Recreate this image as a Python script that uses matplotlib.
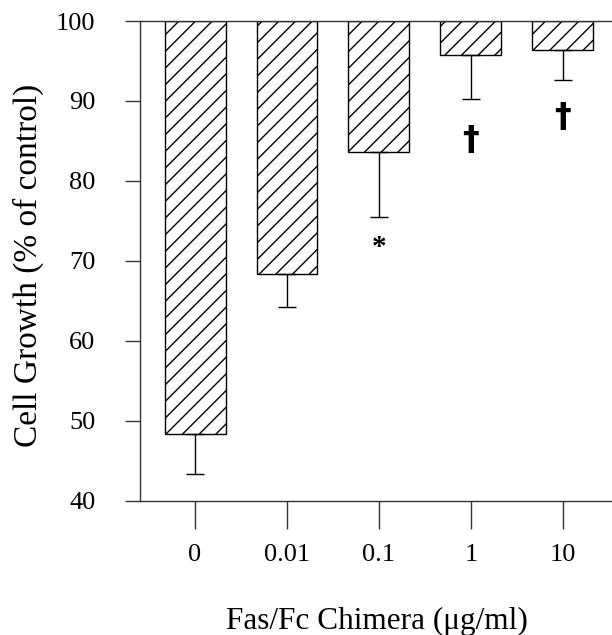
import matplotlib
matplotlib.use("Agg")
import matplotlib.pyplot as plt

plt.rcParams['font.family'] = ['Liberation Serif', 'DejaVu Serif']
plt.rcParams['hatch.linewidth'] = 1.0
plt.rcParams['hatch.color'] = 'black'

# данні з рисунку
doses = ["0", "0.01", "0.1", "1", "10"]
growth = [48.3, 68.4, 83.6, 95.7, 96.4]
err_low = [43.3, 64.2, 75.5, 90.2, 92.6]
marks = ["", "", "*", "†", "†"]
mark_y = [None, None, 71.7, 85.0, 87.9]

fig = plt.figure(figsize=(6.12, 6.35), dpi=100)
ax = fig.add_axes([140 / 612, 1 - 500.5 / 635, 472 / 612, 479.5 / 635])

x = list(range(len(doses)))
heights = [100 - g for g in growth]
ax.bar(x, heights, bottom=growth, width=0.663, color='white',
       edgecolor='black', linewidth=1.0, hatch='//', zorder=2)

# тільки нижні похибки
lower = [g - e for g, e in zip(growth, err_low)]
ax.errorbar(x, growth, yerr=[lower, [0] * len(x)], fmt='none',
            ecolor='black', elinewidth=1.0, capsize=6.8, capthick=1.0, zorder=3)

for xi, m, my in zip(x, marks, mark_y):
    if m == "*":
        ax.text(xi, my, m, ha='center', va='center', fontsize=21, fontweight='bold')
    elif m:
        ax.text(xi, my, m, ha='center', va='center', fontsize=24,
                fontweight='bold', family='DejaVu Sans')

ax.set_xlim(-0.598, 4.533)
ax.set_ylim(40, 100)
ax.set_yticks(range(40, 101, 10))
ax.set_xticks(x)
ax.set_xticklabels(doses)

for side in ['left', 'bottom', 'top']:
    ax.spines[side].set_color('#333333')
    ax.spines[side].set_linewidth(1.0)
ax.spines['right'].set_visible(False)

ax.tick_params(axis='y', direction='out', length=11, width=1.0, color='#333333',
               pad=21, labelsize=19)
ax.tick_params(axis='x', direction='out', length=20, width=1.0, color='#333333',
               pad=11, labelsize=19)

ax.set_ylabel("Cell Growth (% of control)", fontsize=24)
ax.yaxis.label.set_va('center')
ax.yaxis.set_label_coords(-0.237, 0.491)
ax.set_xlabel("Fas/Fc Chimera (μg/ml)", fontsize=22.5)
ax.xaxis.label.set_va('center')
ax.xaxis.set_label_coords(0.502, -0.252)

fig.savefig("out.png", dpi=100)
